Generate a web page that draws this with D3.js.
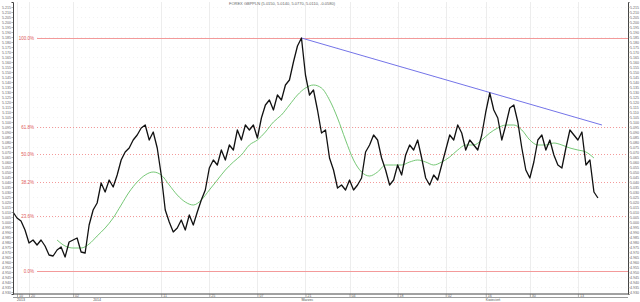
<!DOCTYPE html>
<html>
<head>
<meta charset="utf-8">
<script src="https://cdn.jsdelivr.net/npm/d3@7"></script>
<style>
  body { margin: 0; background: #fff; }
  svg text { font-family: "Liberation Sans", Arial, sans-serif; }
</style>
</head>
<body>
<div id="chart"></div>
<script>
// closing prices, one sample per period
var prices = [
    5.010, 5.004, 5.001, 4.992, 4.979, 4.982, 4.977, 4.982, 4.976, 4.967,
    4.966, 4.972, 4.975, 4.965, 4.980, 4.982, 4.984, 4.970, 4.969, 4.997,
    5.012, 5.019, 5.039, 5.030, 5.042, 5.035, 5.047, 5.062, 5.070, 5.074,
    5.082, 5.087, 5.094, 5.097, 5.082, 5.090, 5.074, 5.047, 5.012, 5.000,
    4.990, 4.994, 5.002, 4.992, 5.007, 4.997, 5.010, 5.022, 5.032, 5.054,
    5.062, 5.057, 5.072, 5.062, 5.077, 5.072, 5.092, 5.082, 5.097, 5.092,
    5.097, 5.084, 5.104, 5.117, 5.122, 5.112, 5.127, 5.122, 5.137, 5.142,
    5.160, 5.176, 5.184, 5.147, 5.127, 5.132, 5.112, 5.089, 5.092, 5.064,
    5.052, 5.034, 5.037, 5.032, 5.042, 5.032, 5.037, 5.044, 5.070, 5.077,
    5.087, 5.082, 5.064, 5.052, 5.037, 5.042, 5.057, 5.047, 5.067, 5.077,
    5.072, 5.082, 5.064, 5.044, 5.037, 5.047, 5.042, 5.057, 5.072, 5.087,
    5.082, 5.097, 5.089, 5.072, 5.082, 5.077, 5.072, 5.087, 5.110, 5.129,
    5.112, 5.104, 5.082, 5.097, 5.114, 5.117, 5.100, 5.074, 5.052, 5.044,
    5.060, 5.082, 5.087, 5.072, 5.082, 5.067, 5.057, 5.054, 5.074, 5.092,
    5.087, 5.082, 5.090, 5.057, 5.062, 5.030, 5.024
];

// moving average, every second period starting at period 11
var maStart = 11;
var maValues = [
    4.982, 4.976, 4.974, 4.974, 4.978, 4.986, 4.994, 5.004, 5.017, 5.030,
    5.040, 5.047, 5.050, 5.047, 5.037, 5.027, 5.020, 5.017, 5.022, 5.032,
    5.042, 5.052, 5.060, 5.067, 5.077, 5.082, 5.090, 5.100, 5.107, 5.117,
    5.127, 5.134, 5.137, 5.134, 5.122, 5.104, 5.082, 5.062, 5.050, 5.046,
    5.050, 5.057, 5.057, 5.057, 5.060, 5.062, 5.060, 5.057, 5.060, 5.065,
    5.072, 5.077, 5.077, 5.082, 5.089, 5.094, 5.097, 5.097, 5.092, 5.082,
    5.077, 5.077, 5.079, 5.077, 5.074, 5.072, 5.070, 5.064
];

// trend line (period, price)
var trendPeriods = [72, 147];
var trendValues = [5.184, 5.097];

// fibonacci retracement
var fibLow = 4.951;
var fibHigh = 5.184;
var fibLevels = [0, 23.6, 38.2, 50, 61.8, 100];

// time axis
var tickPeriods = [1, 4, 15, 37, 49, 61, 73, 84, 96, 108, 118, 129, 141];
var tickLabels = ["10", "20", "02", "11", "25", "07", "21", "04", "18", "02", "16", "30", "13"];
var periodPeriods = [1, 20, 72, 118];
var periodLabels = ["2013", "2014", "Marzec", "Kwiecie\u0144"];

var title = "FOREX GBPPLN (5.0150, 5.0140, 5.0770, 5.0110, -0.0580)";

function drawChart() {
    var width = 640;
    var height = 302;
    var left = 13, right = 628, top = 2, bottom = 294;

    var svg = d3.select("#chart")
        .append("svg")
        .attr("width", width)
        .attr("height", height);

    var xscale = d3.scaleLinear()
        .domain([0, 154])
        .range([left, 630]);
    var yscale = d3.scaleLinear()
        .domain([5.220, 4.928])
        .range([top, bottom]);

    var yTicks = d3.range(4930, 5216, 5).map(function (d) { return d / 1000; });

    // grid
    var grid = svg.append("g");
    grid.selectAll(".hg")
        .data(yTicks.filter(function (d, i) { return i % 2 == 1; }))
        .enter()
        .append("line")
        .attr("x1", left).attr("x2", right)
        .attr("y1", function (d) { return Math.round(yscale(d)) + 0.5; })
        .attr("y2", function (d) { return Math.round(yscale(d)) + 0.5; })
        .attr("stroke", "#e8e8e8")
        .attr("stroke-dasharray", "1,3")
        .attr("stroke-width", 0.6);
    grid.selectAll(".vg")
        .data(tickPeriods)
        .enter()
        .append("line")
        .attr("x1", function (d) { return Math.round(xscale(d)) + 0.5; })
        .attr("x2", function (d) { return Math.round(xscale(d)) + 0.5; })
        .attr("y1", top).attr("y2", bottom)
        .attr("stroke", "#e8e8e8")
        .attr("stroke-width", 0.8);

    // fibonacci lines
    var fib = svg.append("g");
    fibLevels.forEach(function (lv) {
        var v = fibLow + (fibHigh - fibLow) * lv / 100;
        var y = Math.round(yscale(v)) + 0.5;
        var solid = (lv == 0 || lv == 100);
        fib.append("line")
            .attr("x1", 37).attr("x2", right)
            .attr("y1", y).attr("y2", y)
            .attr("stroke", solid ? "#f39a9a" : "#f08080")
            .attr("stroke-width", solid ? 1 : 0.8)
            .attr("stroke-dasharray", solid ? null : "1,2");
        fib.append("text")
            .attr("x", 34).attr("y", y + 1.6)
            .attr("text-anchor", "end")
            .attr("font-size", "4.5px")
            .attr("fill", "#e05a5a")
            .text(lv.toFixed(1) + "%");
    });

    // moving average
    var maLine = d3.line()
        .x(function (d, i) { return xscale(maStart + 2 * i); })
        .y(function (d) { return yscale(d); })
        .curve(d3.curveMonotoneX);
    svg.append("path")
        .attr("d", maLine(maValues))
        .attr("fill", "none")
        .attr("stroke", "#66c166")
        .attr("stroke-width", 0.9);

    // trend
    svg.append("line")
        .attr("x1", xscale(trendPeriods[0])).attr("y1", yscale(trendValues[0]))
        .attr("x2", xscale(trendPeriods[1])).attr("y2", yscale(trendValues[1]))
        .attr("stroke", "#7474e8")
        .attr("stroke-width", 1);

    // price
    var priceLine = d3.line()
        .x(function (d, i) { return xscale(i); })
        .y(function (d) { return yscale(d); });
    svg.append("path")
        .attr("d", priceLine(prices))
        .attr("fill", "none")
        .attr("stroke", "#111")
        .attr("stroke-width", 1.3)
        .attr("stroke-linejoin", "round");

    // value axes
    var y_axis = d3.axisLeft(yscale)
        .tickValues(yTicks)
        .tickSize(1.5)
        .tickPadding(0.5)
        .tickFormat(d3.format(".3f"));
    var y_axis_right = d3.axisRight(yscale)
        .tickValues(yTicks)
        .tickSize(1.5)
        .tickPadding(0.5)
        .tickFormat(d3.format(".3f"));

    svg.append("g")
        .attr("transform", "translate(" + left + ",0)")
        .call(y_axis)
        .call(styleAxis);
    svg.append("g")
        .attr("transform", "translate(" + right + ",0)")
        .call(y_axis_right)
        .call(styleAxis);

    // time axis
    var x_axis = d3.axisBottom(xscale)
        .tickValues(tickPeriods)
        .tickSize(3)
        .tickPadding(-3)
        .tickFormat(function (d, i) { return tickLabels[i]; });
    var xg = svg.append("g")
        .attr("transform", "translate(0," + bottom + ")")
        .call(x_axis)
        .call(styleAxis);
    xg.select(".domain").attr("d", "M" + left + ",0H" + right);
    xg.selectAll(".tick text").attr("text-anchor", "start").attr("dx", 1.5).attr("dy", 2.5);
    xg.append("line")
        .attr("x1", left).attr("x2", right)
        .attr("y1", 3.5).attr("y2", 3.5)
        .attr("stroke", "#555").attr("stroke-width", 0.6);

    svg.append("g").selectAll("text")
        .data(periodPeriods)
        .enter()
        .append("text")
        .attr("x", function (d) { return xscale(d); })
        .attr("y", 301)
        .attr("font-size", "3.6px")
        .attr("fill", "#555")
        .text(function (d, i) { return periodLabels[i]; });

    svg.append("text")
        .attr("x", 282).attr("y", 5)
        .attr("text-anchor", "middle")
        .attr("font-size", "4px")
        .attr("fill", "#666")
        .text(title);
}

function styleAxis(g) {
    g.select(".domain").attr("stroke", "#444").attr("stroke-width", 1);
    g.selectAll(".tick line").attr("stroke", "#666").attr("stroke-width", 0.5);
    g.selectAll(".tick text").attr("font-size", "3.6px").attr("fill", "#666");
}

window.addEventListener('load', function () {
    drawChart();
});
</script>
</body>
</html>
